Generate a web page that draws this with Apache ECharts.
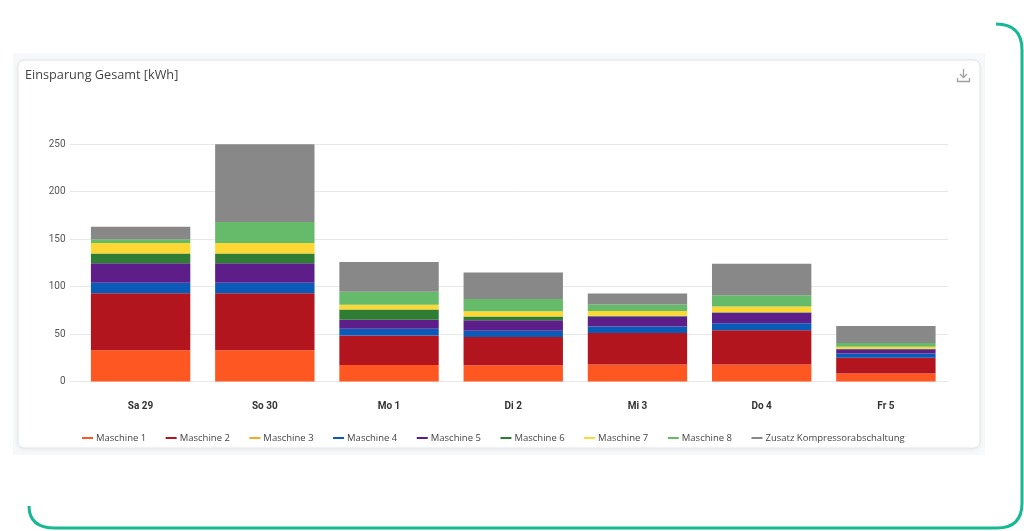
<!DOCTYPE html>
<html>
<head>
<meta charset="utf-8">
<script src="https://cdn.jsdelivr.net/npm/echarts@6/dist/echarts.min.js"></script>
<style>
html,body{margin:0;padding:0;background:#fff;}
#chart{width:1024px;height:531px;}
</style>
</head>
<body>
<div id="chart"></div>
<script>
const categories = ['Sa 29', 'So 30', 'Mo 1', 'Di 2', 'Mi 3', 'Do 4', 'Fr 5'];
const seriesNames = ['Maschine 1', 'Maschine 2', 'Maschine 3', 'Maschine 4', 'Maschine 5', 'Maschine 6', 'Maschine 7', 'Maschine 8', 'Zusatz Kompressorabschaltung'];
const maschine1 = [33, 33, 17.5, 17, 18, 18, 8.5];
const maschine2 = [60, 60, 31, 30, 33, 36, 16.5];
const maschine3 = [0, 0, 0, 0, 0, 0, 0];
const maschine4 = [11, 11, 7, 6.5, 7, 7.5, 4.5];
const maschine5 = [20.5, 20.5, 9.5, 11, 10.5, 11, 4.5];
const maschine6 = [10.5, 10.5, 11, 4, 0.7, 0.5, 0.5];
const maschine7 = [11, 11, 5, 5.5, 5, 6, 2];
const maschine8 = [4, 22, 13.5, 13, 7, 12, 4];
const zusatz = [13, 82, 31.5, 28, 11.5, 33, 18];
const yTicks = [0, 50, 100, 150, 200, 250];

const seriesData = [maschine1, maschine2, maschine3, maschine4, maschine5, maschine6, maschine7, maschine8, zusatz];
const colors = ['#FF5722', '#B3151F', '#F9A825', '#0A5BB8', '#5E1E8A', '#2E7D32', '#FDD835', '#66BB6A', '#888888'];

const teal = {stroke: '#17b894', lineWidth: 3, fill: 'none'};
const iconStyle = {stroke: '#a0a0a0', lineWidth: 1.3, fill: 'none'};

const chart = echarts.init(document.getElementById('chart'));
chart.setOption({
  animation: false,
  color: colors,
  title: {
    text: 'Einsparung Gesamt [kWh]',
    left: 20, top: 64,
    textStyle: {fontFamily: 'Open Sans', fontSize: 12.7, fontWeight: 'normal', color: '#444'}
  },
  legend: {
    left: 77, top: 428,
    icon: 'rect', itemWidth: 11, itemHeight: 2, itemGap: 19.5,
    textStyle: {fontFamily: 'Open Sans', fontSize: 9.5, color: '#444', padding: [0, 0, 0, -2]},
    data: seriesNames
  },
  grid: {left: 78.5, right: 1024 - 948, top: 144.3, bottom: 531 - 381.5, containLabel: false},
  xAxis: {
    type: 'category', data: categories,
    axisLine: {show: true, lineStyle: {color: '#e8e8e8'}},
    axisTick: {show: false},
    axisLabel: {margin: 20, fontFamily: 'Roboto', fontSize: 10, fontWeight: 'bold', color: '#333'}
  },
  yAxis: {
    type: 'value', min: 0, max: 250, interval: 50,
    axisLine: {show: false},
    axisTick: {show: true, length: 9, lineStyle: {color: '#e8e8e8'}},
    splitLine: {lineStyle: {color: '#e8e8e8'}},
    axisLabel: {margin: 13, fontFamily: 'Roboto', fontSize: 10, color: '#555',
      formatter: v => yTicks.includes(v) ? String(v) : ''}
  },
  series: seriesNames.map((name, i) => ({
    name, type: 'bar', stack: 'total', data: seriesData[i], barWidth: '80%',
    emphasis: {disabled: true}
  })),
  graphic: [
    {type: 'rect', z: -100, silent: true, shape: {x: 13, y: 53, width: 972, height: 402}, style: {fill: '#f7f8fa'}},
    {type: 'rect', z: -99, silent: true, shape: {x: 18, y: 60, width: 962, height: 388, r: 6},
      style: {fill: '#ffffff', stroke: '#e4e6ea', lineWidth: 1, shadowBlur: 4, shadowColor: 'rgba(0,0,0,0.06)', shadowOffsetY: 1}},
    {type: 'bezierCurve', z: -98, silent: true, shape: {x1: 996, y1: 24, cpx1: 1022, cpy1: 24, x2: 1022, y2: 50}, style: teal},
    {type: 'line', z: -98, silent: true, shape: {x1: 1022, y1: 50, x2: 1022, y2: 503}, style: teal},
    {type: 'bezierCurve', z: -98, silent: true, shape: {x1: 1022, y1: 503, cpx1: 1022, cpy1: 528, x2: 997, y2: 528}, style: teal},
    {type: 'line', z: -98, silent: true, shape: {x1: 997, y1: 528, x2: 55, y2: 528}, style: teal},
    {type: 'bezierCurve', z: -98, silent: true, shape: {x1: 55, y1: 528, cpx1: 29, cpy1: 528, x2: 29, y2: 506}, style: teal},
    {type: 'line', z: 10, silent: true, shape: {x1: 963.5, y1: 69, x2: 963.5, y2: 77}, style: iconStyle},
    {type: 'polyline', z: 10, silent: true, shape: {points: [[960, 74], [963.5, 77.5], [967, 74]]}, style: iconStyle},
    {type: 'polyline', z: 10, silent: true, shape: {points: [[957.5, 78], [957.5, 81.5], [969.5, 81.5], [969.5, 78]]}, style: iconStyle}
  ]
});
</script>
</body>
</html>
